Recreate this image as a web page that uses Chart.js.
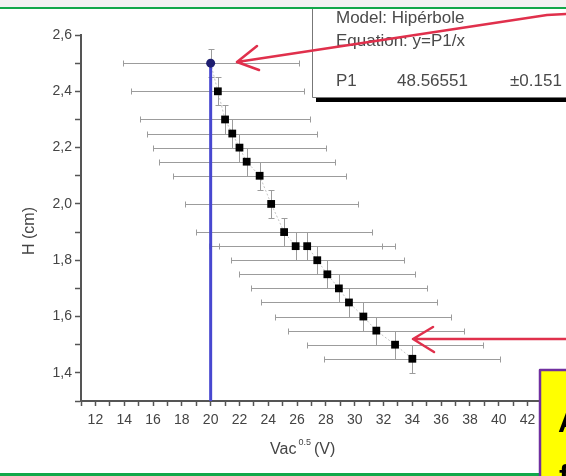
<!DOCTYPE html>
<html>
<head>
<meta charset="utf-8">
<script src="https://cdn.jsdelivr.net/npm/chart.js@4.4.1/dist/chart.umd.min.js"></script>
<style>
  body { margin: 0; background: #fff; }
  canvas { display: block; }
</style>
</head>
<body>
<canvas id="hyperbolaChart" width="566" height="476"></canvas>
<script>
// Vac^0.5 (V) vs H (cm)
const vacValues = [20.0, 20.5, 21.0, 21.5, 22.0, 22.5, 23.4, 24.2, 25.1, 25.9, 26.7, 27.4, 28.1, 28.9, 29.6, 30.6, 31.5, 32.8, 34.0];
const heightValues = [2.50, 2.40, 2.30, 2.25, 2.20, 2.15, 2.10, 2.00, 1.90, 1.85, 1.85, 1.80, 1.75, 1.70, 1.65, 1.60, 1.55, 1.50, 1.45];
const vacErrors = [6.1, 6.0, 5.9, 5.9, 6.0, 6.1, 6.0, 6.0, 6.1, 6.0, 6.1, 6.0, 6.1, 6.1, 6.1, 6.1, 6.1, 6.1, 6.1];
const heightErrors = [0.05, 0.05, 0.05, 0.05, 0.05, 0.05, 0.05, 0.05, 0.05, 0.05, 0.05, 0.05, 0.05, 0.05, 0.05, 0.05, 0.05, 0.05, 0.05];

// blue marker line at Vac^0.5 = 20
const markerX = [20, 20];
const markerY = [2.5, 1.3];

const xTickLabels = [12, 14, 16, 18, 20, 22, 24, 26, 28, 30, 32, 34, 36, 38, 40, 42];
const yTickLabels = ['1,4', '1,6', '1,8', '2,0', '2,2', '2,4', '2,6'];

const fitModel = 'Model: Hipérbole';
const fitEquation = 'Equation: y=P1/x';
const fitParam = ['P1', '48.56551', '±0.151'];

const axisColor = '#555';
const font = '"Liberation Sans", Arial, sans-serif';

const errorBars = {
    id: 'errorBars',
    beforeDatasetsDraw(chart) {
        const { ctx, scales: { x, y } } = chart;
        ctx.save();
        ctx.strokeStyle = '#9c9c9c';
        ctx.lineWidth = 1;
        vacValues.forEach((v, i) => {
            const px = Math.round(x.getPixelForValue(v)) + 0.5;
            const py = Math.round(y.getPixelForValue(heightValues[i])) + 0.5;
            const left = Math.round(x.getPixelForValue(v - vacErrors[i])) + 0.5;
            const right = Math.round(x.getPixelForValue(v + vacErrors[i])) + 0.5;
            const top = Math.round(y.getPixelForValue(heightValues[i] + heightErrors[i])) + 0.5;
            const bottom = Math.round(y.getPixelForValue(heightValues[i] - heightErrors[i])) + 0.5;
            ctx.beginPath();
            ctx.moveTo(left, py); ctx.lineTo(right, py);
            ctx.moveTo(left, py - 3); ctx.lineTo(left, py + 3);
            ctx.moveTo(right, py - 3); ctx.lineTo(right, py + 3);
            ctx.moveTo(px, top); ctx.lineTo(px, bottom);
            ctx.moveTo(px - 3, top); ctx.lineTo(px + 3, top);
            ctx.moveTo(px - 3, bottom); ctx.lineTo(px + 3, bottom);
            ctx.stroke();
        });
        ctx.restore();
    }
};

function drawArrow(ctx, pts, tip, wingA, wingB) {
    ctx.beginPath();
    ctx.moveTo(pts[0][0], pts[0][1]);
    pts.slice(1).forEach(p => ctx.lineTo(p[0], p[1]));
    ctx.moveTo(wingA[0], wingA[1]);
    ctx.lineTo(tip[0], tip[1]);
    ctx.lineTo(wingB[0], wingB[1]);
    ctx.stroke();
}

const slideDecor = {
    id: 'slideDecor',
    afterDraw(chart) {
        const ctx = chart.ctx;
        ctx.save();

        // slide strip + green rules
        ctx.fillStyle = '#f2f2f2';
        ctx.fillRect(0, 0, 566, 7);
        ctx.fillStyle = '#12a84a';
        ctx.fillRect(0, 7, 566, 2);
        ctx.fillRect(0, 473, 566, 3);

        // axis titles
        ctx.fillStyle = '#444';
        ctx.textBaseline = 'middle';
        ctx.font = '16px ' + font;
        ctx.save();
        ctx.translate(30, 231);
        ctx.rotate(-Math.PI / 2);
        ctx.textAlign = 'center';
        ctx.fillText('H (cm)', 0, 0);
        ctx.restore();

        ctx.textAlign = 'left';
        ctx.fillText('Vac', 270, 450);
        let w = ctx.measureText('Vac').width;
        ctx.font = '9px ' + font;
        ctx.fillText('0.5', 270 + w + 2, 443);
        let w2 = ctx.measureText('0.5').width;
        ctx.font = '16px ' + font;
        ctx.fillText('(V)', 270 + w + w2 + 5, 450);

        // fit results box
        ctx.fillStyle = '#fff';
        ctx.fillRect(312, 9, 254, 88);
        ctx.strokeStyle = '#777';
        ctx.lineWidth = 1;
        ctx.beginPath();
        ctx.moveTo(312.5, 9); ctx.lineTo(312.5, 97.5); ctx.lineTo(566, 97.5);
        ctx.stroke();
        ctx.fillStyle = '#000';
        ctx.fillRect(316, 98, 250, 4);

        ctx.fillStyle = '#4a4a4a';
        ctx.font = '17px ' + font;
        ctx.fillText(fitModel, 336, 18);
        ctx.fillText(fitEquation, 336, 41);
        ctx.fillText(fitParam[0], 336, 81);
        ctx.fillText(fitParam[1], 397, 81);
        ctx.fillText(fitParam[2], 510, 81);

        // red arrows
        ctx.strokeStyle = '#e0304c';
        ctx.lineWidth = 2.5;
        ctx.lineJoin = 'round';
        ctx.lineCap = 'round';
        drawArrow(ctx, [[566, 14], [547, 15], [237, 62]], [237, 62], [257, 46], [259, 70]);
        drawArrow(ctx, [[566, 339], [413, 339]], [413, 339], [433, 327], [434, 352]);

        // yellow callout box
        ctx.fillStyle = '#ffff00';
        ctx.fillRect(539, 369, 30, 110);
        ctx.strokeStyle = '#7030a0';
        ctx.lineWidth = 2.5;
        ctx.strokeRect(540, 370, 30, 110);
        ctx.fillStyle = '#000';
        ctx.font = 'bold 30px ' + font;
        ctx.textBaseline = 'alphabetic';
        ctx.fillText('A', 558, 432);
        ctx.fillText('f', 559, 486);

        ctx.restore();
    }
};

const ctx = document.getElementById('hyperbolaChart').getContext('2d');
new Chart(ctx, {
    type: 'scatter',
    data: {
        datasets: [
            {
                label: 'H',
                data: vacValues.map((v, i) => ({ x: v, y: heightValues[i] })),
                pointStyle: vacValues.map((v, i) => i === 0 ? 'circle' : 'rect'),
                pointRadius: vacValues.map((v, i) => i === 0 ? 4.5 : 5.5),
                pointBackgroundColor: vacValues.map((v, i) => i === 0 ? '#1e1e70' : '#000'),
                pointBorderWidth: 0,
                showLine: false
            },
            {
                label: 'marker',
                data: markerX.map((v, i) => ({ x: v, y: markerY[i] })),
                showLine: true,
                borderColor: '#4848d0',
                borderWidth: 3,
                pointRadius: 0
            },
            {
                label: 'trend',
                data: vacValues.map((v, i) => ({ x: v, y: heightValues[i] })),
                showLine: true,
                borderColor: '#c4c4c4',
                borderWidth: 1,
                borderDash: [2, 2],
                pointRadius: 0
            }
        ]
    },
    options: {
        responsive: false,
        animation: false,
        layout: { padding: { left: 0, right: 24, top: 35, bottom: 0 } },
        scales: {
            x: {
                type: 'linear',
                min: 11,
                max: 43,
                afterFit: scale => { scale.height = 75; },
                border: { color: axisColor, width: 2 },
                grid: { drawOnChartArea: false, color: axisColor, tickLength: 5, tickWidth: 1.5 },
                ticks: {
                    stepSize: 1,
                    autoSkip: false,
                    maxRotation: 0,
                    padding: 6,
                    color: '#444',
                    font: { family: font, size: 14 },
                    callback: value => xTickLabels.includes(value) ? String(value) : ''
                }
            },
            y: {
                min: 1.3,
                max: 2.6,
                afterFit: scale => { scale.width = 81; },
                border: { color: axisColor, width: 2 },
                grid: { drawOnChartArea: false, color: axisColor, tickLength: 6, tickWidth: 1.5 },
                ticks: {
                    stepSize: 0.1,
                    autoSkip: false,
                    padding: 3,
                    color: '#444',
                    font: { family: font, size: 14 },
                    callback: value => {
                        const label = value.toFixed(1).replace('.', ',');
                        return yTickLabels.includes(label) ? label : '';
                    }
                }
            }
        },
        plugins: {
            legend: { display: false },
            tooltip: { enabled: false }
        }
    },
    plugins: [errorBars, slideDecor]
});
</script>
</body>
</html>
